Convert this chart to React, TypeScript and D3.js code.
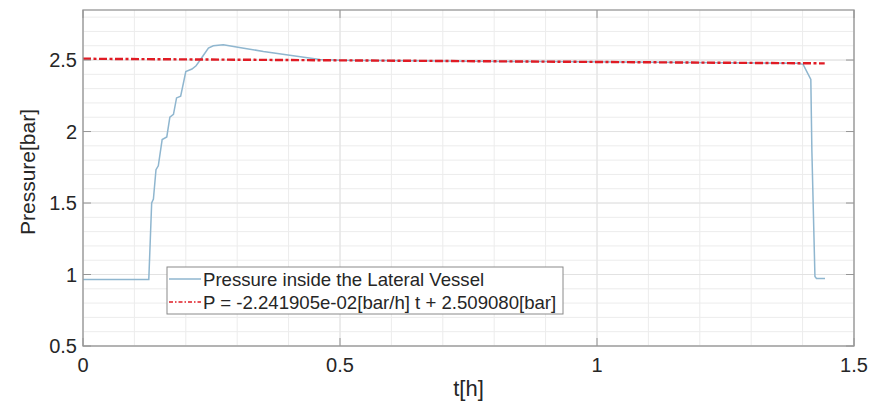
import React from "react";
import * as d3 from "d3";

const timeH = [
  0, 0.128, 0.1336, 0.137, 0.142, 0.1465, 0.154, 0.163, 0.169, 0.176, 0.182, 0.19, 0.196, 0.2, 0.212,
  0.22, 0.228, 0.235, 0.244, 0.2535, 0.273, 0.31, 0.351, 0.416, 0.461, 0.5, 0.9, 1.39, 1.401, 1.416,
  1.418, 1.424, 1.427, 1.4436,
];
const pressureBar = [
  0.965, 0.965, 1.5, 1.528, 1.733, 1.76, 1.944, 1.962, 2.1, 2.12, 2.235, 2.247, 2.35, 2.42, 2.437,
  2.46, 2.5, 2.537, 2.584, 2.6, 2.607, 2.585, 2.56, 2.527, 2.503, 2.498, 2.489, 2.478, 2.47, 2.364,
  1.873, 0.986, 0.972, 0.972,
];

// linear fit line
const fitT = [0, 1.443];
const fitP = [2.50908, 2.47673];

const xTicks = [0, 0.5, 1, 1.5];
const yTicks = [0.5, 1, 1.5, 2, 2.5];
const xMinor = d3.range(0, 1.5001, 0.1);
const yMinor = d3.range(0.5, 2.85, 0.1);

const legendLabels = [
  "Pressure inside the Lateral Vessel",
  "P = -2.241905e-02[bar/h] t + 2.509080[bar]",
];

const W = 888;
const H = 404;
const margin = { top: 10, right: 34, bottom: 58, left: 83 };
const font = "'Liberation Sans', Arial, Helvetica, sans-serif";
const blue = "#8fb6cf";
const red = "#e01b24";
const axisColor = "#969696";
const textColor = "#262626";

const App = () => {
  const x = d3.scaleLinear().domain([0, 1.5]).range([margin.left, W - margin.right]);
  const y = d3.scaleLinear().domain([0.5, 2.85]).range([H - margin.bottom, margin.top]);
  const x0 = x(0), x1 = x(1.5), y0 = y(0.5), y1 = y(2.85);

  const line = d3
    .line<number>()
    .x((d, i) => x(timeH[i]))
    .y((d) => y(d));
  const fitLine = d3
    .line<number>()
    .x((d, i) => x(fitT[i]))
    .y((d) => y(d));

  const tickLen = 8;
  const lg = { x: 167, y: 267, w: 396, h: 47 };

  return (
    <svg
      width={W}
      height={H}
      style={{ position: "absolute", left: 0, top: 0, background: "#fff" }}
      fontFamily={font}
    >
      <rect x={0} y={0} width={W} height={H} fill="#fff" />

      {/* minor + major grid */}
      <g stroke="#ececec" strokeWidth={1}>
        {xMinor.map((t) => (
          <line key={"xm" + t} x1={x(t)} x2={x(t)} y1={y1} y2={y0} />
        ))}
        {yMinor.map((p) => (
          <line key={"ym" + p} x1={x0} x2={x1} y1={y(p)} y2={y(p)} />
        ))}
      </g>
      <g stroke="#e2e2e2" strokeWidth={1}>
        {xTicks.map((t) => (
          <line key={"xg" + t} x1={x(t)} x2={x(t)} y1={y1} y2={y0} />
        ))}
        {yTicks.map((p) => (
          <line key={"yg" + p} x1={x0} x2={x1} y1={y(p)} y2={y(p)} />
        ))}
      </g>

      {/* data */}
      <path d={line(pressureBar) || ""} fill="none" stroke={blue} strokeWidth={1.5} />
      <path
        d={fitLine(fitP) || ""}
        fill="none"
        stroke={red}
        strokeWidth={2.4}
        strokeDasharray="8,2.5,3,2.5"
      />

      {/* axes box */}
      <rect x={x0} y={y1} width={x1 - x0} height={y0 - y1} fill="none" stroke={axisColor} strokeWidth={1.3} />
      <g stroke={axisColor} strokeWidth={1}>
        {xTicks.map((t) => (
          <g key={"xt" + t}>
            <line x1={x(t)} x2={x(t)} y1={y0} y2={y0 - tickLen} />
            <line x1={x(t)} x2={x(t)} y1={y1} y2={y1 + tickLen} />
          </g>
        ))}
        {yTicks.map((p) => (
          <g key={"yt" + p}>
            <line x1={x0} x2={x0 + tickLen} y1={y(p)} y2={y(p)} />
            <line x1={x1} x2={x1 - tickLen} y1={y(p)} y2={y(p)} />
          </g>
        ))}
      </g>

      {/* tick labels */}
      <g fontSize={20} fill={textColor}>
        {xTicks.map((t) => (
          <text key={"xl" + t} x={x(t)} y={y0 + 26} textAnchor="middle">
            {String(t)}
          </text>
        ))}
        {yTicks.map((p) => (
          <text key={"yl" + p} x={x0 - 6} y={y(p) + 7} textAnchor="end">
            {String(p)}
          </text>
        ))}
      </g>

      {/* axis labels */}
      <text x={(x0 + x1) / 2} y={396} fontSize={22} fill={textColor} textAnchor="middle">
        t[h]
      </text>
      <text
        transform={`translate(35,172) rotate(-90)`}
        fontSize={21}
        fill={textColor}
        textAnchor="middle"
      >
        Pressure[bar]
      </text>

      {/* legend */}
      <rect x={lg.x} y={lg.y} width={lg.w} height={lg.h} fill="#fff" stroke="#8a8a8a" strokeWidth={1} />
      <line x1={lg.x + 2} x2={lg.x + 34} y1={lg.y + 12} y2={lg.y + 12} stroke={blue} strokeWidth={1.5} />
      <line
        x1={lg.x + 2}
        x2={lg.x + 34}
        y1={lg.y + 35}
        y2={lg.y + 35}
        stroke={red}
        strokeWidth={1.5}
        strokeDasharray="4,2,1.5,2"
      />
      <g fontSize={18.6} fill={textColor}>
        <text x={lg.x + 36} y={lg.y + 19}>
          {legendLabels[0]}
        </text>
        <text x={lg.x + 36} y={lg.y + 42}>
          {legendLabels[1]}
        </text>
      </g>
    </svg>
  );
};

export default App;
